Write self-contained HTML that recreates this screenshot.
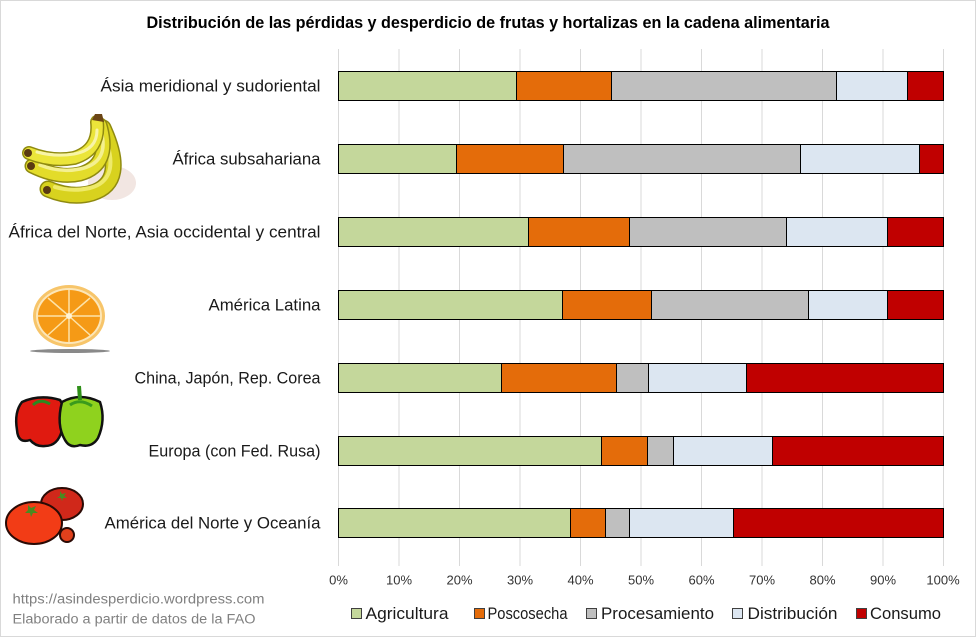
<!DOCTYPE html>
<html>
<head>
<meta charset="utf-8">
<style>
  html, body { margin:0; padding:0; background:#fff; }
  body { width:976px; height:637px; overflow:hidden; }
  svg { display:block; }
  text { font-family: "Liberation Sans", "DejaVu Sans", sans-serif; }
</style>
</head>
<body>
<svg width="976" height="637" viewBox="0 0 976 637" xmlns="http://www.w3.org/2000/svg">
  <rect x="0" y="0" width="976" height="637" fill="#ffffff"/>
  <rect x="0.5" y="0.5" width="975" height="636" fill="none" stroke="#d9d9d9" stroke-width="1"/>

  <!-- Title -->
  <text x="488" y="28" text-anchor="middle" font-size="17" font-weight="bold" fill="#000" textLength="683" lengthAdjust="spacingAndGlyphs">Distribución de las pérdidas y desperdicio de frutas y hortalizas en la cadena alimentaria</text>

  <!-- Gridlines -->
  <g stroke="#d9d9d9" stroke-width="1">
    <line x1="338.5" y1="49" x2="338.5" y2="566"/>
    <line x1="399" y1="49" x2="399" y2="566"/>
    <line x1="459.5" y1="49" x2="459.5" y2="566"/>
    <line x1="520" y1="49" x2="520" y2="566"/>
    <line x1="580.5" y1="49" x2="580.5" y2="566"/>
    <line x1="641" y1="49" x2="641" y2="566"/>
    <line x1="701.5" y1="49" x2="701.5" y2="566"/>
    <line x1="762" y1="49" x2="762" y2="566"/>
    <line x1="822.5" y1="49" x2="822.5" y2="566"/>
    <line x1="883" y1="49" x2="883" y2="566"/>
    <line x1="943.5" y1="49" x2="943.5" y2="566"/>
  </g>

  <!-- Bars -->
  <g stroke="#000" stroke-width="1">
    <!-- Bar 1 -->
    <rect x="338.5" y="71.5" width="178" height="29" fill="#c4d79b"/>
    <rect x="516.5" y="71.5" width="95" height="29" fill="#e46c0a"/>
    <rect x="611.5" y="71.5" width="225" height="29" fill="#bfbfbf"/>
    <rect x="836.5" y="71.5" width="71" height="29" fill="#dce6f1"/>
    <rect x="907.5" y="71.5" width="36" height="29" fill="#c00000"/>
    <!-- Bar 2 -->
    <rect x="338.5" y="144.5" width="118" height="29" fill="#c4d79b"/>
    <rect x="456.5" y="144.5" width="107" height="29" fill="#e46c0a"/>
    <rect x="563.5" y="144.5" width="237" height="29" fill="#bfbfbf"/>
    <rect x="800.5" y="144.5" width="119" height="29" fill="#dce6f1"/>
    <rect x="919.5" y="144.5" width="24" height="29" fill="#c00000"/>
    <!-- Bar 3 -->
    <rect x="338.5" y="217.5" width="190" height="29" fill="#c4d79b"/>
    <rect x="528.5" y="217.5" width="101" height="29" fill="#e46c0a"/>
    <rect x="629.5" y="217.5" width="157" height="29" fill="#bfbfbf"/>
    <rect x="786.5" y="217.5" width="101" height="29" fill="#dce6f1"/>
    <rect x="887.5" y="217.5" width="56" height="29" fill="#c00000"/>
    <!-- Bar 4 -->
    <rect x="338.5" y="290.5" width="224" height="29" fill="#c4d79b"/>
    <rect x="562.5" y="290.5" width="89" height="29" fill="#e46c0a"/>
    <rect x="651.5" y="290.5" width="157" height="29" fill="#bfbfbf"/>
    <rect x="808.5" y="290.5" width="79" height="29" fill="#dce6f1"/>
    <rect x="887.5" y="290.5" width="56" height="29" fill="#c00000"/>
    <!-- Bar 5 -->
    <rect x="338.5" y="363.5" width="163" height="29" fill="#c4d79b"/>
    <rect x="501.5" y="363.5" width="115" height="29" fill="#e46c0a"/>
    <rect x="616.5" y="363.5" width="32" height="29" fill="#bfbfbf"/>
    <rect x="648.5" y="363.5" width="98" height="29" fill="#dce6f1"/>
    <rect x="746.5" y="363.5" width="197" height="29" fill="#c00000"/>
    <!-- Bar 6 -->
    <rect x="338.5" y="436.5" width="263" height="29" fill="#c4d79b"/>
    <rect x="601.5" y="436.5" width="46" height="29" fill="#e46c0a"/>
    <rect x="647.5" y="436.5" width="26" height="29" fill="#bfbfbf"/>
    <rect x="673.5" y="436.5" width="99" height="29" fill="#dce6f1"/>
    <rect x="772.5" y="436.5" width="171" height="29" fill="#c00000"/>
    <!-- Bar 7 -->
    <rect x="338.5" y="508.5" width="232" height="29" fill="#c4d79b"/>
    <rect x="570.5" y="508.5" width="35" height="29" fill="#e46c0a"/>
    <rect x="605.5" y="508.5" width="24" height="29" fill="#bfbfbf"/>
    <rect x="629.5" y="508.5" width="104" height="29" fill="#dce6f1"/>
    <rect x="733.5" y="508.5" width="210" height="29" fill="#c00000"/>
  </g>

  <!-- Category labels -->
  <g font-size="17" fill="#1a1a1a" text-anchor="end">
    <text x="320.5" y="91.5" textLength="220" lengthAdjust="spacingAndGlyphs">Ásia meridional y sudoriental</text>
    <text x="320.5" y="164.5" textLength="148" lengthAdjust="spacingAndGlyphs">África subsahariana</text>
    <text x="320.5" y="237.5" textLength="312" lengthAdjust="spacingAndGlyphs">África del Norte, Asia occidental y central</text>
    <text x="320.5" y="310.5" textLength="112" lengthAdjust="spacingAndGlyphs">América Latina</text>
    <text x="320.5" y="383.5" textLength="186" lengthAdjust="spacingAndGlyphs">China, Japón, Rep. Corea</text>
    <text x="320.5" y="456.5" textLength="172" lengthAdjust="spacingAndGlyphs">Europa (con Fed. Rusa)</text>
    <text x="320.5" y="528.5" textLength="216" lengthAdjust="spacingAndGlyphs">América del Norte y Oceanía</text>
  </g>

  <!-- X tick labels -->
  <g font-size="13" fill="#333" text-anchor="middle">
    <text x="338.5" y="584.5">0%</text>
    <text x="399" y="584.5">10%</text>
    <text x="459.5" y="584.5">20%</text>
    <text x="520" y="584.5">30%</text>
    <text x="580.5" y="584.5">40%</text>
    <text x="641" y="584.5">50%</text>
    <text x="701.5" y="584.5">60%</text>
    <text x="762" y="584.5">70%</text>
    <text x="822.5" y="584.5">80%</text>
    <text x="883" y="584.5">90%</text>
    <text x="943" y="584.5">100%</text>
  </g>

  <!-- Legend -->
  <g stroke="#404040" stroke-width="1">
    <rect x="351.5" y="608.5" width="10" height="10" fill="#c4d79b"/>
    <rect x="474.5" y="608.5" width="10" height="10" fill="#e46c0a"/>
    <rect x="586.5" y="608.5" width="10" height="10" fill="#bfbfbf"/>
    <rect x="732.5" y="608.5" width="10" height="10" fill="#dce6f1"/>
    <rect x="856.5" y="608.5" width="10" height="10" fill="#c00000"/>
  </g>
  <g font-size="17" fill="#1a1a1a">
    <text x="365.5" y="619" textLength="83" lengthAdjust="spacingAndGlyphs">Agricultura</text>
    <text x="487.5" y="619" textLength="80" lengthAdjust="spacingAndGlyphs">Poscosecha</text>
    <text x="601" y="619" textLength="113" lengthAdjust="spacingAndGlyphs">Procesamiento</text>
    <text x="747.5" y="619" textLength="90" lengthAdjust="spacingAndGlyphs">Distribución</text>
    <text x="870" y="619" textLength="71" lengthAdjust="spacingAndGlyphs">Consumo</text>
  </g>

  <!-- Footer -->
  <g font-size="13.5" fill="#808080">
    <text x="12.5" y="603.5" textLength="252" lengthAdjust="spacingAndGlyphs">https://asindesperdicio.wordpress.com</text>
    <text x="12.5" y="623.5" textLength="243" lengthAdjust="spacingAndGlyphs">Elaborado a partir de datos de la FAO</text>
  </g>

  <!-- Banana bunch -->
  <g>
    <ellipse cx="112" cy="183" rx="24" ry="17" fill="#f2e6e2"/>
    <g fill="none" stroke-linecap="round">
      <!-- bottom banana -->
      <path d="M103,128 Q128,182 92,193 Q72,199 48,189" stroke="#8f8a10" stroke-width="17"/>
      <path d="M103,128 Q128,182 92,193 Q72,199 48,189" stroke="#d8d21e" stroke-width="14"/>
      <path d="M106,140 Q120,180 90,188 Q72,192 55,187" stroke="#eeea6a" stroke-width="4"/>
      <!-- middle banana -->
      <path d="M100,125 Q112,165 80,174 Q58,179 32,166" stroke="#8f8a10" stroke-width="15"/>
      <path d="M100,125 Q112,165 80,174 Q58,179 32,166" stroke="#e3dc2a" stroke-width="12"/>
      <path d="M102,135 Q108,163 80,169 Q60,173 40,165" stroke="#f4f090" stroke-width="3.5"/>
      <!-- top banana -->
      <path d="M97,122 Q100,150 74,158 Q52,162 29,153" stroke="#8f8a10" stroke-width="14"/>
      <path d="M97,122 Q100,150 74,158 Q52,162 29,153" stroke="#ebe53a" stroke-width="11"/>
      <path d="M97,130 Q97,150 74,154 Q55,157 37,152" stroke="#f8f4a8" stroke-width="3"/>
    </g>
    <!-- tips -->
    <circle cx="28" cy="153" r="4" fill="#5a3a12"/>
    <circle cx="31" cy="166" r="4" fill="#5a3a12"/>
    <circle cx="47" cy="190" r="4" fill="#5a3a12"/>
    <!-- stem -->
    <path d="M92,120 L95,114 L102,114 L104,122 Z" fill="#6b4516"/>
  </g>

  <!-- Orange slice -->
  <g>
    <ellipse cx="70" cy="351" rx="40" ry="2" fill="#3a3a3a" opacity="0.6"/>
    <ellipse cx="69" cy="316" rx="36" ry="31" fill="#f7c56a"/>
    <ellipse cx="69" cy="316" rx="33" ry="28" fill="#fce6b8"/>
    <ellipse cx="69" cy="316" rx="31" ry="26" fill="#f59a16"/>
    <g stroke="#fde3a8" stroke-width="1.5">
      <line x1="69" y1="316" x2="69" y2="290"/>
      <line x1="69" y1="316" x2="90" y2="298"/>
      <line x1="69" y1="316" x2="100" y2="316"/>
      <line x1="69" y1="316" x2="90" y2="335"/>
      <line x1="69" y1="316" x2="69" y2="342"/>
      <line x1="69" y1="316" x2="48" y2="335"/>
      <line x1="69" y1="316" x2="38" y2="316"/>
      <line x1="69" y1="316" x2="48" y2="298"/>
    </g>
    <circle cx="69" cy="316" r="3" fill="#fff4d6"/>
  </g>

  <!-- Peppers -->
  <g stroke="#111" stroke-width="2.5" stroke-linejoin="round">
    <!-- red pepper -->
    <path d="M22,402 Q40,394 60,400 Q68,412 62,430 Q58,446 45,446 Q36,447 30,440 Q18,444 17,430 Q14,412 22,402 Z" fill="#e01a10"/>
    <path d="M33,405 Q40,398 50,404" fill="none" stroke="#2a8a20" stroke-width="3"/>
    <!-- green pepper -->
    <path d="M62,402 Q80,392 100,402 Q106,420 98,438 Q92,448 80,445 Q70,449 65,440 Q56,425 62,402 Z" fill="#8fd21e"/>
    <path d="M80,400 L79,386" fill="none" stroke="#2f8f18" stroke-width="4"/>
    <path d="M70,405 Q80,398 92,406" fill="none" stroke="#3a9a1c" stroke-width="3"/>
  </g>

  <!-- Tomatoes -->
  <g stroke="#2a0a05" stroke-width="2">
    <ellipse cx="62" cy="504" rx="21" ry="16" fill="#d0281a"/>
    <ellipse cx="34" cy="523" rx="28" ry="21" fill="#f23c16"/>
    <circle cx="67" cy="535" r="7" fill="#e0401c"/>
  </g>
  <path d="M28,505 l3,3 l5,-2 l-2,4 l4,3 l-5,0 l-2,4 l-1,-4 l-5,0 l3,-3 Z" fill="#4a8a20"/>
  <path d="M60,491 l2,3 l4,-1 l-2,3 l3,2 l-4,0 l-1,3 l-1,-3 l-4,0 l3,-2 Z" fill="#4a8a20"/>
</svg>
</body>
</html>
